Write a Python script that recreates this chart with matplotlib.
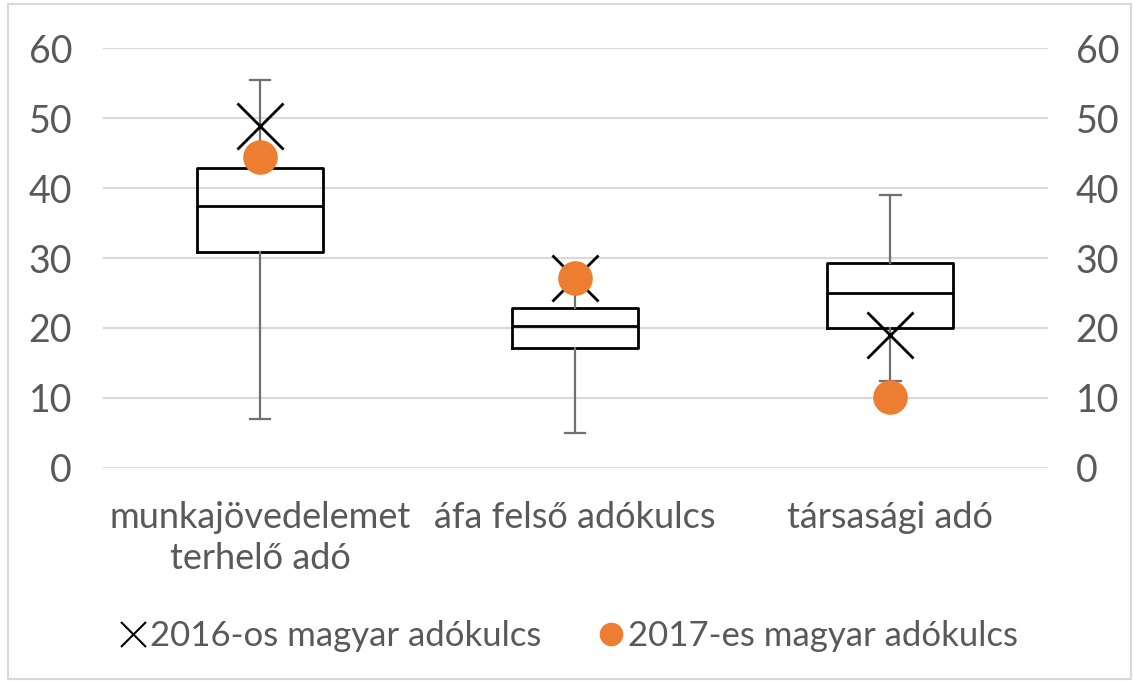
import matplotlib.pyplot as plt
from matplotlib.lines import Line2D

plt.rcParams['font.family'] = ['Lato', 'DejaVu Sans']

# adatok
categories = ["munkajövedelemet\nterhelő adó", "áfa felső adókulcs", "társasági adó"]
whislo = [7.0, 5.0, 12.4]
q1 = [30.9, 17.2, 20.0]
med = [37.4, 20.3, 25.0]
q3 = [42.8, 22.8, 29.3]
whishi = [55.4, 27.0, 39.0]
rate_2016 = [48.9, 27.1, 19.0]
rate_2017 = [44.4, 27.1, 10.2]
yticks = [0, 10, 20, 30, 40, 50, 60]

txt = '#595959'
orange = '#ED7D31'

fig = plt.figure(figsize=(11.34, 6.82), dpi=100)
ax = fig.add_axes([0.0905, 0.3138, 0.8335, 0.6158])

stats = []
for i in range(len(categories)):
    stats.append(dict(whislo=whislo[i], q1=q1[i], med=med[i], q3=q3[i], whishi=whishi[i]))

pos = list(range(len(categories)))
ax.bxp(stats, positions=pos, widths=0.4, showfliers=False, patch_artist=False,
       boxprops=dict(color='black', linewidth=2),
       medianprops=dict(color='black', linewidth=2),
       whiskerprops=dict(color='#707070', linewidth=1.6),
       capprops=dict(color='#707070', linewidth=1.6),
       capwidths=0.065, zorder=3)

ax.scatter(pos, rate_2016, marker='x', s=1100, color='black', linewidths=2, zorder=4)
ax.scatter(pos, rate_2017, marker='o', s=620, color=orange, linewidths=0, zorder=5)

ax.set_xlim(-0.5, len(categories) - 0.5)
ax.set_ylim(0, 60)
ax.set_yticks(yticks)
ax.set_xticks(pos)
ax.set_xticklabels(categories, fontsize=26, color=txt, linespacing=1.3)
ax.tick_params(axis='y', labelsize=27, labelcolor=txt, length=0, pad=22)
ax.tick_params(axis='x', length=0, pad=24)
ax.grid(axis='y', color='#D9D9D9', linewidth=1.5, zorder=0)
ax.set_axisbelow(True)
for s in ax.spines.values():
    s.set_visible(False)

ax2 = ax.twinx()
ax2.set_ylim(0, 60)
ax2.set_yticks(yticks)
ax2.tick_params(axis='y', labelsize=27, labelcolor=txt, length=0, pad=20)
for s in ax2.spines.values():
    s.set_visible(False)

handles = [Line2D([], [], marker='x', color='black', linestyle='none', markersize=18, markeredgewidth=1.5),
           Line2D([], [], marker='o', color=orange, linestyle='none', markersize=17, markeredgewidth=0)]
fig.legend(handles, ["2016-os magyar adókulcs", "2017-es magyar adókulcs"],
           loc='center', bbox_to_anchor=(0.5, 0.067), ncol=2, frameon=False,
           fontsize=25, labelcolor=txt, handletextpad=0.0, columnspacing=1.5,
           handlelength=1.0)

fig.patches.append(plt.Rectangle((0.007, 0.004), 0.99, 0.99, transform=fig.transFigure,
                                 fill=False, edgecolor='#D9D9D9', linewidth=1.5))

fig.savefig('out.png', dpi=100)
